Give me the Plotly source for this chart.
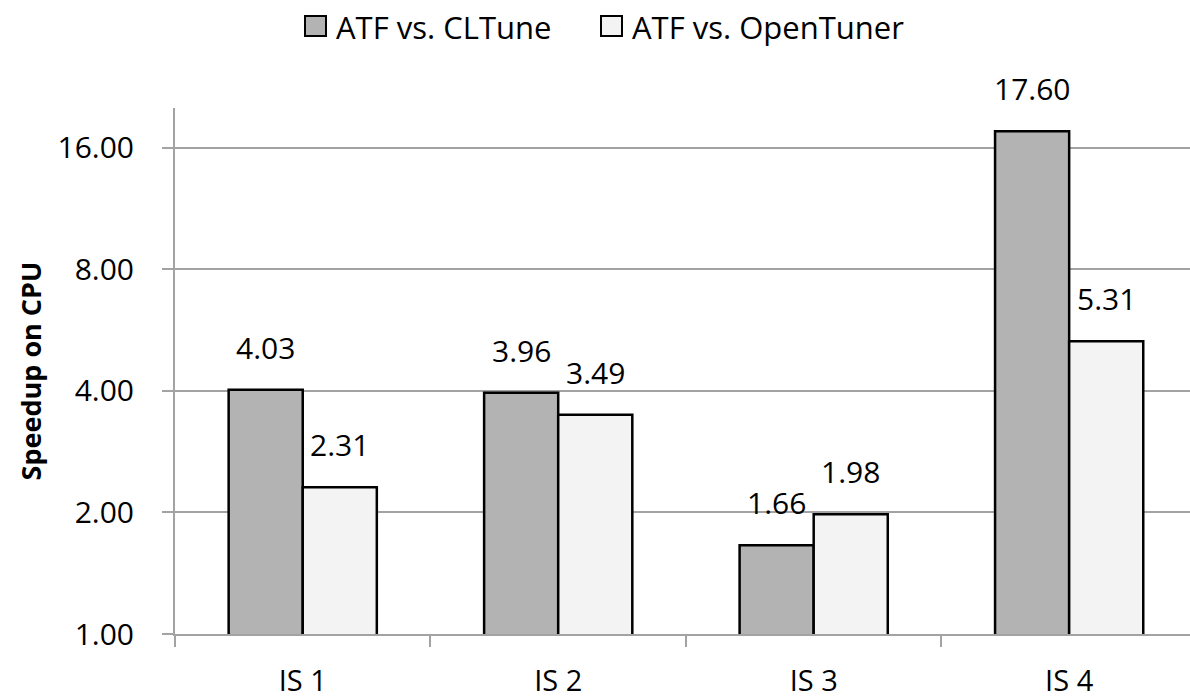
import math
import plotly.graph_objects as go

categories = ["IS 1", "IS 2", "IS 3", "IS 4"]
cltune = [4.03, 3.96, 1.66, 17.60]
opentuner = [2.31, 3.49, 1.98, 5.31]
series_names = ["ATF vs. CLTune", "ATF vs. OpenTuner"]
series_colors = ["#b3b3b3", "#f3f3f3"]
y_ticks = [1, 2, 4, 8, 16]
y_ticktext = ["1.00", "2.00", "4.00", "8.00", "16.00"]

FONT = "Open Sans"
GRID = "#a3a3a3"
BARGAP = 0.42
bar_w = (1 - BARGAP) / 2

W, H = 1190, 699
ML, MR, MT, MB = 175, 0, 108, 65
XR = [-0.5, 3.473]
plot_w = W - ML - MR
plot_h = H - MT - MB
px_per_cat = plot_w / (XR[1] - XR[0])

def px_to_paper_x(px):
    return (px - ML) / plot_w

def px_to_paper_y(py):
    return (H - MB - py) / plot_h

fig = go.Figure()
for name, vals, col in zip(series_names, [cltune, opentuner], series_colors):
    fig.add_trace(go.Bar(
        x=categories, y=vals, name=name, showlegend=False,
        marker=dict(color=col, line=dict(color="#000000", width=2.5)),
    ))

annotations = []
for si, vals in enumerate([cltune, opentuner]):
    off = (si - 0.5) * bar_w * px_per_cat
    for cat, v in zip(categories, vals):
        annotations.append(dict(
            x=cat, y=math.log10(v), xref="x", yref="y", text=f"{v:.2f}",
            showarrow=False, yanchor="bottom", xanchor="center",
            xshift=off, yshift=20,
            font=dict(family=FONT, size=30, color="#000000"),
        ))

# custom legend (marker boxes + labels)
shapes = []
legend_x = [305, 601]
for name, col, lx in zip(series_names, series_colors, legend_x):
    shapes.append(dict(
        type="rect", xref="paper", yref="paper",
        x0=px_to_paper_x(lx), x1=px_to_paper_x(lx + 21),
        y0=px_to_paper_y(36), y1=px_to_paper_y(16),
        fillcolor=col, line=dict(color="#000000", width=2),
    ))
    annotations.append(dict(
        x=px_to_paper_x(lx + 29), y=px_to_paper_y(27), xref="paper", yref="paper",
        text=name, showarrow=False, xanchor="left", yanchor="middle",
        font=dict(family=FONT, size=31, color="#000000"),
    ))

fig.update_layout(
    width=W, height=H,
    margin=dict(l=ML, r=MR, t=MT, b=MB, autoexpand=False),
    paper_bgcolor="white", plot_bgcolor="white",
    barmode="group", bargap=BARGAP, bargroupgap=0,
    font=dict(family=FONT, size=30, color="#000000"),
    showlegend=False,
    annotations=annotations,
    shapes=shapes,
)
fig.update_xaxes(
    type="category", range=XR,
    showline=True, linecolor=GRID, linewidth=2,
    ticks="outside", tickson="boundaries", ticklen=11, tickwidth=2, tickcolor=GRID,
    showgrid=False, ticklabelstandoff=20,
    tickfont=dict(family=FONT, size=29, color="#000000"),
)
fig.update_yaxes(
    type="log", range=[0, 1.303],
    tickvals=y_ticks, ticktext=y_ticktext,
    showline=True, linecolor=GRID, linewidth=2,
    ticks="outside", ticklen=11, tickwidth=2, tickcolor=GRID,
    showgrid=True, gridcolor=GRID, gridwidth=2, zeroline=False,
    ticklabelstandoff=22,
    tickfont=dict(family=FONT, size=30, color="#000000"),
    title=dict(text="<b>Speedup on CPU</b>", font=dict(family=FONT, size=27, color="#000000"), standoff=8),
)

fig.write_html("out.html", config={"displayModeBar": False},
               post_script="document.body.style.margin='0';document.body.style.padding='0';")
